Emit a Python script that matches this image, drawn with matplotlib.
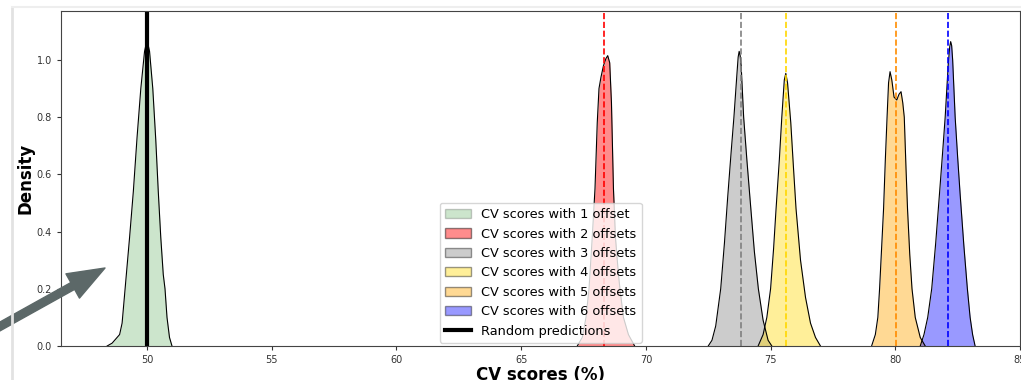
import matplotlib
matplotlib.use("Agg")
import matplotlib.pyplot as plt
from matplotlib.patches import Patch, FancyArrowPatch
from matplotlib.lines import Line2D

# density curves (x = CV score %, y = density)
x_off1 = [48.40, 48.60, 48.75, 48.90, 49.00, 49.12, 49.30, 49.45, 49.60, 49.75, 49.90, 50.00,
          50.10, 50.23, 50.35, 50.45, 50.55, 50.65, 50.72, 50.80, 50.90, 51.00]
y_off1 = [0.0, 0.01, 0.025, 0.04, 0.08, 0.20, 0.38, 0.54, 0.73, 0.90, 1.03, 1.07,
          1.03, 0.90, 0.72, 0.54, 0.38, 0.25, 0.20, 0.10, 0.03, 0.0]

x_off2 = [67.25, 67.45, 67.60, 67.72, 67.85, 67.96, 68.05, 68.12, 68.20, 68.30, 68.40, 68.47,
          68.55, 68.62, 68.70, 68.78, 68.90, 68.96, 69.10, 69.30, 69.55]
y_off2 = [0.0, 0.03, 0.10, 0.20, 0.38, 0.55, 0.78, 0.90, 0.94, 0.98, 1.005, 1.015,
          0.99, 0.85, 0.55, 0.38, 0.25, 0.20, 0.10, 0.04, 0.0]

x_off3 = [72.50, 72.65, 72.80, 73.00, 73.15, 73.28, 73.42, 73.53, 73.65, 73.70, 73.74,
          73.78, 73.82, 73.92, 74.05, 74.18, 74.35, 74.51, 74.70, 74.90, 75.05]
y_off3 = [0.0, 0.02, 0.07, 0.20, 0.36, 0.52, 0.68, 0.80, 0.95, 1.01, 1.03,
          1.015, 0.98, 0.80, 0.65, 0.51, 0.33, 0.20, 0.09, 0.02, 0.0]

x_off4 = [74.50, 74.70, 74.85, 75.00, 75.12, 75.22, 75.35, 75.45, 75.55, 75.61,
          75.68, 75.81, 75.92, 76.02, 76.20, 76.40, 76.60, 76.80, 77.00]
y_off4 = [0.0, 0.04, 0.10, 0.20, 0.34, 0.48, 0.65, 0.80, 0.93, 0.953,
          0.92, 0.78, 0.62, 0.48, 0.30, 0.17, 0.08, 0.03, 0.0]

x_off5 = [79.05, 79.20, 79.30, 79.37, 79.45, 79.53, 79.60, 79.67, 79.73, 79.79, 79.86, 79.95,
          80.06, 80.15, 80.23, 80.30, 80.36, 80.43, 80.49, 80.58, 80.67, 80.80, 81.00, 81.20]
y_off5 = [0.0, 0.04, 0.10, 0.20, 0.34, 0.48, 0.65, 0.80, 0.92, 0.959, 0.93, 0.87,
          0.86, 0.88, 0.889, 0.85, 0.80, 0.62, 0.48, 0.32, 0.20, 0.10, 0.03, 0.0]

x_off6 = [81.00, 81.15, 81.30, 81.46, 81.62, 81.77, 81.90, 82.00, 82.12, 82.18, 82.22,
          82.26, 82.30, 82.40, 82.50, 82.60, 82.75, 82.89, 83.00, 83.10, 83.20]
y_off6 = [0.0, 0.04, 0.10, 0.20, 0.36, 0.53, 0.68, 0.80, 0.98, 1.045, 1.064,
          1.05, 1.00, 0.80, 0.66, 0.53, 0.35, 0.20, 0.10, 0.04, 0.0]

mean_scores = [49.95, 68.34, 73.80, 75.61, 80.03, 82.10]
random_score = 50.0
labels = ["CV scores with 1 offset", "CV scores with 2 offsets", "CV scores with 3 offsets",
          "CV scores with 4 offsets", "CV scores with 5 offsets", "CV scores with 6 offsets"]

curves = [(x_off1, y_off1), (x_off2, y_off2), (x_off3, y_off3),
          (x_off4, y_off4), (x_off5, y_off5), (x_off6, y_off6)]
fill_colors = ["green", "red", "gray", "gold", "orange", "blue"]
fill_alpha = [0.2, 0.45, 0.4, 0.4, 0.42, 0.4]
line_colors = ["#1e3b1e", "red", "gray", "gold", "darkorange", "blue"]

fig = plt.figure(figsize=(10.21, 3.8), dpi=100)
ax = fig.add_axes([61 / 1021, 34 / 380, 959 / 1021, 335 / 380])

for (xs, ys), fc, a in zip(curves, fill_colors, fill_alpha):
    ax.fill_between(xs, ys, 0, color=fc, alpha=a, linewidth=0)
    ax.plot(xs, ys, color="black", lw=0.8)

for i, (m, c) in enumerate(zip(mean_scores, line_colors)):
    ls = ":" if i == 0 else "--"
    lw = 2 if i == 0 else 1.2
    ax.axvline(m, color=c, ls=ls, lw=lw)
ax.axvline(random_score, color="black", lw=3)

ax.set_xlim(46.55, 85)
ax.set_ylim(0, 1.171)
ax.set_xticks([50, 55, 60, 65, 70, 75, 80, 85])
ax.set_yticks([0.0, 0.2, 0.4, 0.6, 0.8, 1.0])
ax.tick_params(labelsize=7, colors="#333333", length=3)
for s in ax.spines.values():
    s.set_color("#444444")
ax.set_xlabel("CV scores (%)", fontsize=12, fontweight="bold", labelpad=1)
ax.set_ylabel("Density", fontsize=12, fontweight="bold")
ax.yaxis.set_label_coords(-26 / 959, 0.5)

handles = [Patch(facecolor=fc, alpha=a, edgecolor="black") for fc, a in zip(fill_colors, fill_alpha)]
handles.append(Line2D([0], [0], color="black", lw=3))
ax.legend(handles, labels + ["Random predictions"], loc="lower left",
          bbox_to_anchor=(0.395, 0.009), borderaxespad=0, fontsize=9.3)

# screenshot border and overlay arrow
fig.add_artist(Line2D([12 / 1021, 12 / 1021], [0, 373 / 380], transform=fig.transFigure,
                      color="#e2e2e2", lw=2))
fig.add_artist(Line2D([12 / 1021, 1], [373 / 380, 373 / 380], transform=fig.transFigure,
                      color="#eeeeee", lw=1.5))
arrow = FancyArrowPatch((-10 / 1021, 1 - 332 / 380), (105 / 1021, 1 - 268 / 380),
                        transform=fig.transFigure, shrinkA=0, shrinkB=0,
                        arrowstyle="simple,head_length=1.33,head_width=1.0,tail_width=0.28",
                        mutation_scale=20, color="#5c6868")
fig.add_artist(arrow)

fig.savefig("out.png", dpi=100)
